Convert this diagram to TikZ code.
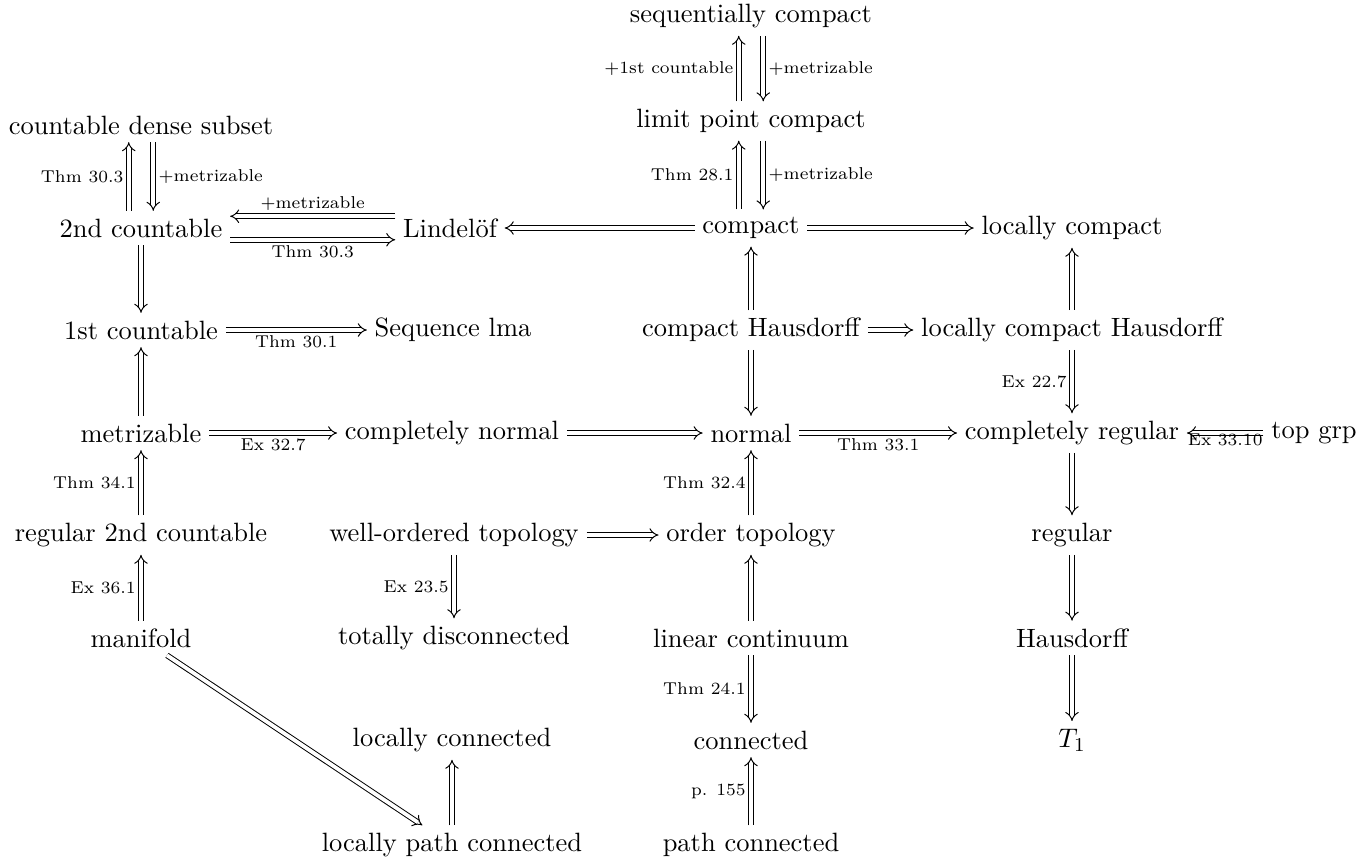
\documentclass[tikz,border=0pt]{standalone}
\usetikzlibrary{arrows.meta}
\begin{document}
\begin{tikzpicture}[x=0.408pt,y=-0.408pt,
    impl/.style={double,double equal sign distance,-{Implies}},
    lbl/.style={font=\scriptsize,inner sep=2pt}]

        \useasboundingbox (0,0) rectangle (1359,865);

        \begin{scope}[every node/.style={inner sep=3pt,font=\fontsize{10.8pt}{13pt}\selectfont}]
          \node (seqc)  at (751,16)   {sequentially compact};
          \node (lpc)   at (751,121)  {limit point compact};
          \node (cds)   at (141,125)  {countable dense subset};
          \node (sc2)   at (141,228)  {2nd countable};
          \node (lind)  at (450,228)  {Lindel\"of};
          \node (comp)  at (751,228)  {compact};
          \node (lcomp) at (1072,228) {locally compact};
          \node (fc1)   at (141,330)  {1st countable};
          \node (seql)  at (453,330)  {Sequence lma};
          \node (ch)    at (751,330)  {compact Hausdorff};
          \node (lch)   at (1072,330) {locally compact Hausdorff};
          \node (metr)  at (141,433)  {metrizable};
          \node (cnorm) at (452,433)  {completely normal};
          \node (norm)  at (751,433)  {normal};
          \node (creg)  at (1072,433) {completely regular};
          \node (tgrp)  at (1314,433) {top grp};
          \node (reg2)  at (141,535)  {regular 2nd countable};
          \node (wot)   at (454,535)  {well-ordered topology};
          \node (ot)    at (751,535)  {order topology};
          \node (reg)   at (1072,535) {regular};
          \node (mfd)   at (141,638)  {manifold};
          \node (tdis)  at (454,638)  {totally disconnected};
          \node (lc)    at (751,638)  {linear continuum};
          \node (haus)  at (1072,638) {Hausdorff};
          \node (lconn) at (452,740)  {locally connected};
          \node (conn)  at (751,740)  {connected};
          \node (tone)  at (1072,740) {$T_1$};
          \node (lpath) at (452,845)  {locally path connected};
          \node (pconn) at (751,845)  {path connected};
        \end{scope}

        \begin{scope}[every node/.style={lbl}]

          \begin{scope}[every edge/.style={draw,impl}]
            % pairs of arrows
            \path ([xshift=-5pt]lpc.north)  edge node[left]  {$+$1st countable} ([xshift=-5pt]seqc.south);
            \path ([xshift=5pt]seqc.south)  edge node[right] {$+$metrizable}    ([xshift=5pt]lpc.north);
            \path ([xshift=-5pt]comp.north) edge node[left]  {Thm 28.1}         ([xshift=-5pt]lpc.south);
            \path ([xshift=5pt]lpc.south)   edge node[right] {$+$metrizable}    ([xshift=5pt]comp.north);
            \path ([xshift=-5pt]sc2.north)  edge node[left]  {Thm 30.3}         ([xshift=-5pt]cds.south);
            \path ([xshift=5pt]cds.south)   edge node[right] {$+$metrizable}    ([xshift=5pt]sc2.north);
            \path ([yshift=4.8pt]lind.west) edge node[above] {$+$metrizable}    ([yshift=4.8pt]sc2.east);
            \path ([yshift=-4.8pt]sc2.east) edge node[below] {Thm 30.3}         ([yshift=-4.8pt]lind.west);

            % single arrows
            \path (comp)  edge (lind);
            \path (comp)  edge (lcomp);
            \path (sc2)   edge (fc1);
            \path (fc1)   edge node[below] {Thm 30.1} (seql);
            \path (ch)    edge (comp);
            \path (ch)    edge (lch);
            \path (lch)   edge (lcomp);
            \path (lch)   edge node[left] {Ex 22.7} (creg);
            \path (ch)    edge (norm);
            \path (metr)  edge (fc1);
            \path (metr)  edge node[below] {Ex 32.7} (cnorm);
            \path (cnorm) edge (norm);
            \path (norm)  edge node[below] {Thm 33.1} (creg);
            \path (tgrp)  edge node[below,inner sep=0pt] {Ex 33.10} (creg);
            \path (ot)    edge node[left] {Thm 32.4} (norm);
            \path (reg2)  edge node[left] {Thm 34.1} (metr);
            \path (wot)   edge (ot);
            \path (wot)   edge node[left] {Ex 23.5} (tdis);
            \path (creg)  edge (reg);
            \path (reg)   edge (haus);
            \path (haus)  edge (tone);
            \path (mfd)   edge node[left] {Ex 36.1} (reg2);
            \path (mfd)   edge (lpath);
            \path (lpath) edge (lconn);
            \path (lc)    edge (ot);
            \path (lc)    edge node[left] {Thm 24.1} (conn);
            \path (pconn) edge node[left] {p. 155} (conn);
          \end{scope}
        \end{scope}

      \end{tikzpicture}
\end{document}
